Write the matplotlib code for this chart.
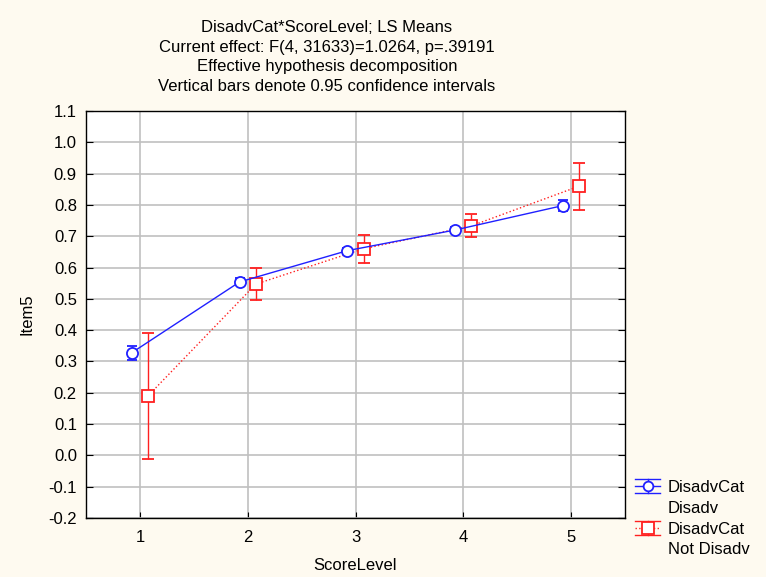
import matplotlib
matplotlib.use("Agg")
import matplotlib.pyplot as plt
from matplotlib.lines import Line2D
from matplotlib.legend_handler import HandlerBase
import numpy as np

plt.rcParams['font.family'] = ['Liberation Sans', 'DejaVu Sans']

score_levels = [1, 2, 3, 4, 5]
disadv_mean = [0.328, 0.554, 0.654, 0.720, 0.798]
disadv_lo = [0.305, 0.545, 0.644, 0.710, 0.780]
disadv_hi = [0.350, 0.565, 0.664, 0.730, 0.815]
notdis_mean = [0.190, 0.547, 0.660, 0.733, 0.860]
notdis_lo = [-0.012, 0.495, 0.615, 0.698, 0.785]
notdis_hi = [0.392, 0.600, 0.705, 0.770, 0.935]
y_ticks = [-0.2, -0.1, 0.0, 0.1, 0.2, 0.3, 0.4, 0.5, 0.6, 0.7, 0.8, 0.9, 1.0, 1.1]
title_lines = ["DisadvCat*ScoreLevel; LS Means",
               "Current effect: F(4, 31633)=1.0264, p=.39191",
               "Effective hypothesis decomposition",
               "Vertical bars denote 0.95 confidence intervals"]
legend_lines = ["DisadvCat", "Disadv", "DisadvCat", "Not Disadv"]

W, H = 766, 577
BG = '#fefaf0'
FS = 12
fig = plt.figure(figsize=(W / 100, H / 100), dpi=100, facecolor=BG)

ax = fig.add_axes([86 / W, (H - 518) / H, (625 - 86) / W, (518 - 111) / H])
ax.set_facecolor('white')

x = np.array(score_levels, dtype=float)
dm = np.array(disadv_mean); dl = np.array(disadv_lo); dh = np.array(disadv_hi)
nm = np.array(notdis_mean); nl = np.array(notdis_lo); nh = np.array(notdis_hi)

blue = '#2020ff'
red = '#ff2020'
h1 = ax.errorbar(x - 0.075, dm, yerr=[dm - dl, dh - dm], color=blue, lw=1.0,
                 marker='o', ms=8, mfc='white', mec=blue, mew=1.3,
                 capsize=3.7, elinewidth=1.0, capthick=1.0, zorder=4)
h2 = ax.errorbar(x + 0.075, nm, yerr=[nm - nl, nh - nm], color=red, lw=1.0, ls=':',
                 marker='s', ms=9, mfc='white', mec=red, mew=1.3,
                 capsize=4, elinewidth=1.0, capthick=1.0, zorder=3)
h2[-1][0].set_linestyle('-')

ax.set_xlim(0.5, 5.5)
ax.set_ylim(-0.2, 1.1)
ax.set_xticks(score_levels)
ax.set_xticklabels([str(s) for s in score_levels])
ax.set_yticks(y_ticks)
ax.set_yticklabels([f"{v:.1f}" for v in y_ticks])
ax.grid(True, color='#c0c0c0', lw=1.2)
ax.set_axisbelow(True)
ax.tick_params(axis='y', direction='in', length=5, left=True, right=True, labelsize=FS, pad=6.5)
ax.tick_params(axis='x', direction='in', length=4, top=False, labelsize=FS, pad=9)
for s in ax.spines.values():
    s.set_color('black'); s.set_linewidth(1.0)

ax.set_xlabel("ScoreLevel", fontsize=FS, labelpad=9)
ax.set_ylabel("Item5", fontsize=FS, labelpad=10)

fig.text(327 / W, 1 - 57 / H, "\n".join(title_lines), ha='center', va='center',
         fontsize=FS, linespacing=1.38)


class ErrHandle:
    def __init__(self, color, ls, marker, ms):
        self.color, self.ls, self.marker, self.ms = color, ls, marker, ms


class HandlerErr(HandlerBase):
    def create_artists(self, legend, orig, xdescent, ydescent, width, height, fontsize, trans):
        cy = height / 2 - ydescent
        x0, x1 = -xdescent, -xdescent + width
        cx = (x0 + x1) / 2
        dy = 0.42 * fontsize
        arts = [
            Line2D([x0, x1], [cy, cy], color=orig.color, ls=orig.ls, lw=1.0),
            Line2D([x0, x1], [cy + dy, cy + dy], color=orig.color, lw=1.0),
            Line2D([x0, x1], [cy - dy, cy - dy], color=orig.color, lw=1.0),
            Line2D([cx, cx], [cy - dy, cy + dy], color=orig.color, lw=1.0),
            Line2D([cx], [cy], marker=orig.marker, ms=orig.ms, mfc='white', mec=orig.color, mew=1.3, ls='none'),
        ]
        for a in arts:
            a.set_transform(trans)
        return arts


class EmptyHandle:
    pass


class HandlerEmpty(HandlerBase):
    def create_artists(self, legend, orig, xdescent, ydescent, width, height, fontsize, trans):
        a = Line2D([], [], alpha=0)
        a.set_transform(trans)
        return [a]


lh1 = ErrHandle(blue, '-', 'o', 7)
lh2 = ErrHandle(red, ':', 's', 8)
e1, e2 = EmptyHandle(), EmptyHandle()
leg = fig.legend([lh1, e1, lh2, e2], legend_lines, loc='upper left',
                 bbox_to_anchor=(635 / W, 1 - 480 / H),
                 handler_map={ErrHandle: HandlerErr(), EmptyHandle: HandlerEmpty()},
                 frameon=False, fontsize=FS, handlelength=1.5, handletextpad=0.48,
                 labelspacing=0.35, borderaxespad=0, borderpad=0)

fig.savefig("out.png", dpi=100, facecolor=BG)
